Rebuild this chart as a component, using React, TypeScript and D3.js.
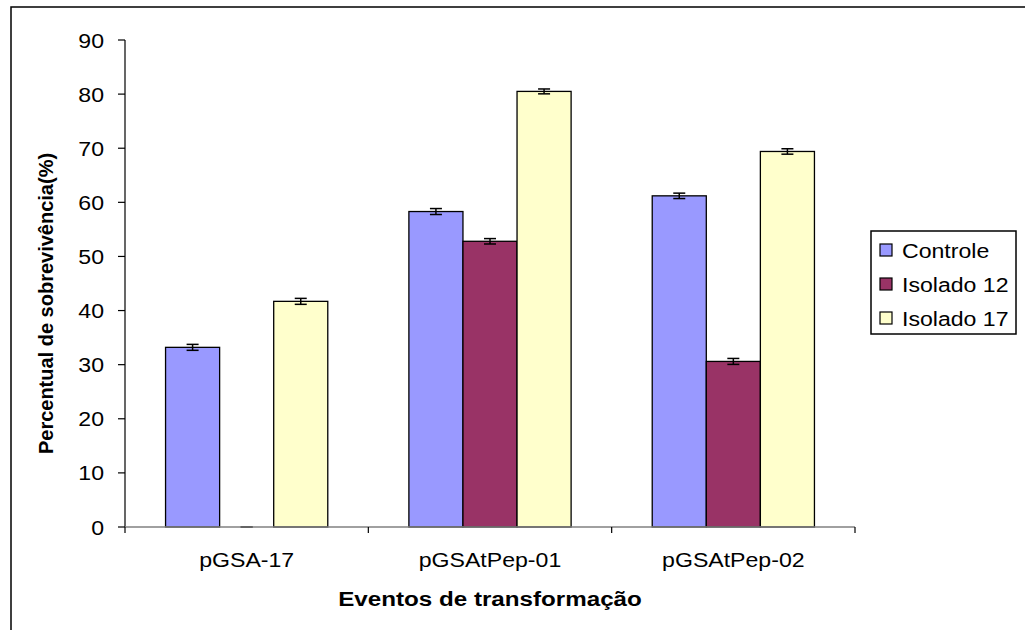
import React from "react";
import * as d3 from "d3";

const categories = ["pGSA-17", "pGSAtPep-01", "pGSAtPep-02"];
const seriesNames = ["Controle", "Isolado 12", "Isolado 17"];
const seriesColors = ["#9999FF", "#993366", "#FFFFCC"];
const controle = [33.2, 58.3, 61.2];
const isolado12 = [0, 52.8, 30.6];
const isolado17 = [41.7, 80.5, 69.4];
const errControle = [0.55, 0.55, 0.5];
const errIsolado12 = [0, 0.5, 0.55];
const errIsolado17 = [0.55, 0.45, 0.5];
const yTicks = [0, 10, 20, 30, 40, 50, 60, 70, 80, 90];

const seriesValues = [controle, isolado12, isolado17];
const seriesErrors = [errControle, errIsolado12, errIsolado17];

const W = 1025;
const H = 630;
const FONT = "'Liberation Sans', Arial, sans-serif";
const SX = 1.1;

export default function App() {
  const x = d3.scaleBand<string>().domain(categories).range([125, 855]).padding(0);
  const y = d3.scaleLinear().domain([0, 90]).range([527, 40]);
  const bw = x.bandwidth() / 4.5;
  const margin = (x.bandwidth() - 3 * bw) / 2;

  const txt = (
    key: string,
    tx: number,
    ty: number,
    s: string,
    anchor: "start" | "middle" | "end",
    size: number,
    bold = false,
    sx = SX
  ) => (
    <text
      key={key}
      transform={`translate(${tx},${ty}) scale(${sx},1)`}
      textAnchor={anchor}
      fontFamily={FONT}
      fontSize={size}
      fontWeight={bold ? "bold" : "normal"}
      fill="#000"
    >
      {s}
    </text>
  );

  return (
    <svg
      width={W}
      height={H}
      style={{ position: "absolute", left: 0, top: 0, background: "#fff" }}
    >
      <rect x={0} y={0} width={W} height={H} fill="#fff" />
      {/* outer frame */}
      <rect x={11} y={7} width={W + 20} height={H + 20} fill="none" stroke="#000" strokeWidth={1.5} />

      {/* bars */}
      {categories.map((c, ci) =>
        seriesValues.map((vals, si) => {
          const bx = (x(c) as number) + margin + si * bw;
          const v = vals[ci];
          const e = seriesErrors[si][ci];
          const cx = bx + bw / 2;
          return (
            <g key={`${c}-${si}`}>
              <rect
                x={bx}
                y={y(v)}
                width={bw}
                height={y(0) - y(v)}
                fill={seriesColors[si]}
                stroke="#000"
                strokeWidth={1.3}
              />
              <line x1={cx} x2={cx} y1={y(v + e)} y2={y(v - e)} stroke="#000" strokeWidth={1.5} />
              <line x1={cx - 6} x2={cx + 6} y1={y(v + e)} y2={y(v + e)} stroke="#000" strokeWidth={1.5} />
              <line x1={cx - 6} x2={cx + 6} y1={y(v - e)} y2={y(v - e)} stroke="#000" strokeWidth={1.5} />
            </g>
          );
        })
      )}

      {/* y axis */}
      <line x1={125} x2={125} y1={y(90)} y2={y(0)} stroke="#000" strokeWidth={1.2} />
      {yTicks.map((t) => (
        <g key={`yt${t}`}>
          <line x1={118} x2={125} y1={y(t)} y2={y(t)} stroke="#000" strokeWidth={1.2} />
          {txt(`yl${t}`, 104, y(t) + 7.5, String(t), "end", 21)}
        </g>
      ))}

      {/* x axis */}
      <line x1={125} x2={855} y1={y(0)} y2={y(0)} stroke="#808080" strokeWidth={1.5} />
      {[...categories.map((c) => x(c) as number), 855].map((px, i) => (
        <line key={`xt${i}`} x1={px} x2={px} y1={y(0)} y2={y(0) + 6} stroke="#000" strokeWidth={1.2} />
      ))}
      {categories.map((c) => txt(`xl${c}`, (x(c) as number) + x.bandwidth() / 2, 567, c, "middle", 21))}

      {/* axis titles */}
      {txt("xtitle", 490, 606, "Eventos de transformação", "middle", 20.5, true, 1.18)}
      <text
        transform={`translate(53,${(y(0) + y(90)) / 2 + 20}) rotate(-90) scale(1,1.05)`}
        textAnchor="middle"
        fontFamily={FONT}
        fontSize={20}
        fontWeight="bold"
        fill="#000"
      >
        Percentual de sobrevivência(%)
      </text>

      {/* legend */}
      <rect x={871} y={231} width={145} height={103} fill="#fff" stroke="#000" strokeWidth={1.5} />
      {seriesNames.map((n, i) => {
        const cy = 250 + i * 34;
        return (
          <g key={n}>
            <rect x={880} y={cy - 6} width={12} height={12} fill={seriesColors[i]} stroke="#000" strokeWidth={1.2} />
            {txt(`lg${i}`, 902, cy + 7.5, n, "start", 21)}
          </g>
        );
      })}
    </svg>
  );
}
